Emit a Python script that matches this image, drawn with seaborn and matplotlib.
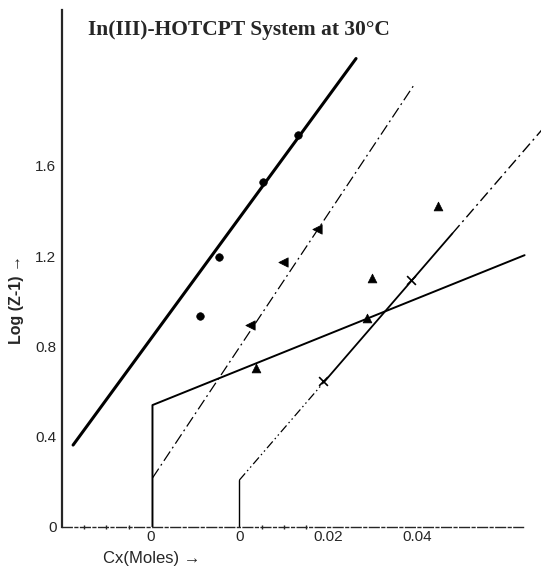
import numpy as np
import matplotlib
matplotlib.use("Agg")
import matplotlib.pyplot as plt
import seaborn as sns

sns.set_style("ticks")
plt.rcParams['font.family'] = ['Liberation Sans', 'DejaVu Sans']

# x read in the shared frame of the figure: each set has its own "0" on the axis
circle_x = [-0.0088, -0.0047, 0.0054, 0.0133]
circle_y = [0.934, 1.195, 1.527, 1.735]
ltri_x = [0.0025, 0.0099, 0.0175]
ltri_y = [0.894, 1.173, 1.319]
utri_x = [0.0038, 0.0288, 0.0299, 0.0447]
utri_y = [0.704, 0.925, 1.102, 1.420]
cross_x = [0.0189, 0.0387]
cross_y = [0.646, 1.093]

# fitted lines, end points
line_a_x = [-0.0375, 0.0263]
line_a_y = [0.363, 2.075]
line_b_x = [-0.0196, 0.0396]
line_b_y = [0.217, 1.965]
line_c_x = [-0.0196, -0.0196, 0.0643]
line_c_y = [0.0, 0.540, 1.204]
line_d_x = [0.0, 0.0681]
line_d_y = [0.208, 1.757]
line_d_breaks = [0.646, 1.30]   # dash-dot-dot / solid / dash-dot

xtick_pos = [-0.02, 0.0, 0.02, 0.04]
xtick_lab = ["0", "0", "0.02", "0.04"]
ytick_pos = [0, 0.4, 0.8, 1.2, 1.6]
ytick_lab = ["0", "0.4", "0.8", "1.2", "1.6"]

fig = plt.figure(figsize=(5.41, 5.66), dpi=100)
ax = fig.add_axes([62/541, 1 - 527/566, 479/541, 517/566])

serif = ['Liberation Serif', 'DejaVu Serif']

# lines
sns.lineplot(x=line_a_x, y=line_a_y, estimator=None, sort=False, color='black', lw=2.2, ax=ax)
sns.lineplot(x=line_b_x, y=line_b_y, estimator=None, sort=False, color='black', lw=0.9,
             linestyle=(0, (9, 3, 1.5, 3)), ax=ax)
sns.lineplot(x=line_c_x, y=line_c_y, estimator=None, sort=False, color='black', lw=1.4, ax=ax)

# line d in three pieces, riser at its own origin
d_slope = (line_d_y[1] - line_d_y[0]) / (line_d_x[1] - line_d_x[0])
d_ys = [line_d_y[0]] + line_d_breaks + [line_d_y[1]]
d_xs = [line_d_x[0] + (yy - line_d_y[0]) / d_slope for yy in d_ys]
sns.lineplot(x=[line_d_x[0], line_d_x[0]], y=[0, line_d_y[0]], estimator=None, sort=False,
             color='black', lw=1.0, ax=ax)
styles = [(0, (7, 2.5, 1.2, 2.5, 1.2, 2.5)), '-', (0, (8, 3, 1.5, 3))]
widths = [0.9, 1.3, 1.0]
for i in range(3):
    sns.lineplot(x=d_xs[i:i+2], y=d_ys[i:i+2], estimator=None, sort=False, color='black',
                 lw=widths[i], linestyle=styles[i], ax=ax)

# points
sns.scatterplot(x=circle_x, y=circle_y, marker='o', s=30, color='black', edgecolor='black', ax=ax, zorder=5)
sns.scatterplot(x=ltri_x, y=ltri_y, marker='<', s=45, color='black', edgecolor='black', ax=ax, zorder=5)
sns.scatterplot(x=utri_x, y=utri_y, marker='^', s=40, color='black', edgecolor='black', ax=ax, zorder=5)
sns.scatterplot(x=cross_x, y=cross_y, marker='x', s=40, color='black', linewidth=1.2, ax=ax, zorder=5)

ax.set_xlim(-0.04, 0.068)
ax.set_ylim(0, 2.29)
sns.despine(ax=ax)
ax.spines['left'].set_linewidth(1.6)
ax.spines['bottom'].set_linewidth(1.0)
ax.spines['bottom'].set_linestyle((0, (7, 2, 2, 2)))
ax.spines['bottom'].set_bounds(-0.04, 0.064)

ax.set_xticks(xtick_pos)
ax.set_xticklabels(xtick_lab)
ax.set_xticks([-0.035, -0.03, -0.025, 0.005, 0.01, 0.015], minor=True)
ax.set_yticks(ytick_pos)
ax.set_yticklabels(ytick_lab)
ax.tick_params(axis='y', length=0, pad=4, labelsize=11)
ax.tick_params(axis='x', which='major', length=0, pad=2, labelsize=11)
ax.tick_params(axis='x', which='minor', length=3, width=1, direction='inout')

ax.set_xlabel("Cx(Moles) →", fontsize=12, va='center')
ax.xaxis.set_label_coords(0.188, -0.06)
ax.set_ylabel("Log (Z-1) →", fontsize=11.5, fontweight='bold')
ax.yaxis.set_label_coords(-0.08, 0.44)

ax.text(0.054, 0.961, "In(III)-HOTCPT System at 30°C", transform=ax.transAxes,
        family=serif, fontsize=15.5, fontweight='bold', ha='left', va='center')

fig.savefig("out.png", dpi=100)
